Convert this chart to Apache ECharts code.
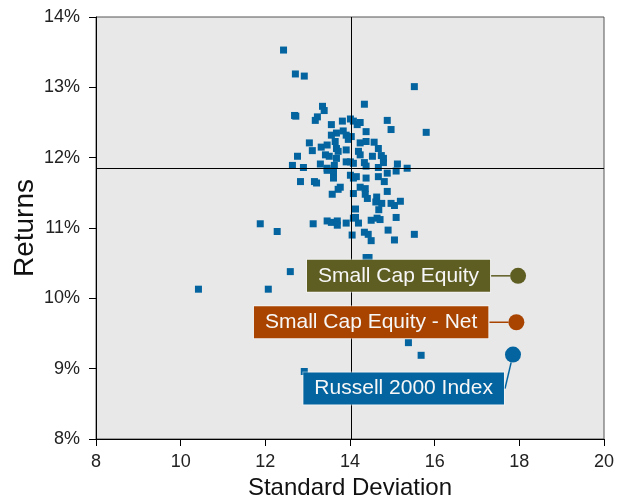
<!DOCTYPE html>
<html>
<head>
<meta charset="utf-8">
<script src="https://cdn.jsdelivr.net/npm/echarts@6/dist/echarts.min.js"></script>
<style>
  html, body { margin: 0; padding: 0; background: #ffffff; }
  #chart { width: 628px; height: 500px; }
</style>
</head>
<body>
<div id="chart"></div>
<script>
// ---- data ----
const stdDev = [
  12.43, 12.71, 12.92, 15.52, 14.34, 13.35, 13.39, 12.69, 12.72, 13.23,
  13.18, 14.88, 15.80, 14.97, 13.56, 13.82, 14.01, 14.08, 14.17, 14.24,
  14.38, 12.76, 13.68, 13.56, 13.84, 13.91, 14.03, 13.96, 13.65, 13.04,
  13.32, 13.46, 13.11, 13.42, 13.51, 13.68, 13.72, 13.68, 13.91, 13.91,
  14.01, 14.08, 14.24, 14.38, 14.57, 14.67, 14.74, 14.79, 14.79, 14.53,
  14.20, 14.24, 14.34, 14.38, 14.67, 15.12, 15.35, 12.64, 12.90, 13.30,
  13.46, 13.63, 13.46, 13.61, 13.61, 12.83, 13.16, 13.21, 14.01, 14.15,
  14.08, 14.38, 14.67, 14.88, 15.09, 14.81, 13.77, 13.72, 13.58, 14.08,
  14.24, 14.36, 14.36, 14.41, 14.63, 14.61, 14.75, 14.68, 14.88, 14.97,
  15.05, 15.19, 14.13, 14.13, 14.08, 14.20, 13.91, 13.46, 13.56, 13.70,
  13.70, 13.13, 12.28, 14.50, 14.64, 14.71, 15.09, 14.90, 14.34, 14.43,
  14.50, 14.05, 15.05, 15.52, 11.88, 14.38, 14.45, 12.59, 10.42, 12.07,
  15.38, 15.68, 12.92
];
const returnsPct = [
  13.53, 13.19, 13.16, 13.01, 12.76, 12.73, 12.67, 12.60, 12.59, 12.58,
  12.53, 12.53, 12.36, 12.40, 12.47, 12.52, 12.55, 12.52, 12.47, 12.50,
  12.37, 12.02, 12.35, 12.32, 12.38, 12.32, 12.30, 12.26, 12.23, 12.21,
  12.15, 12.18, 12.10, 12.04, 12.02, 12.13, 12.09, 11.99, 12.11, 11.94,
  11.94, 11.92, 12.21, 12.23, 12.22, 12.13, 12.03, 11.99, 11.93, 12.02,
  12.09, 12.04, 11.93, 11.88, 11.86, 11.91, 11.85, 11.89, 11.86, 11.91,
  11.85, 11.89, 11.82, 11.79, 11.71, 11.66, 11.66, 11.64, 11.75, 11.73,
  11.71, 11.71, 11.73, 11.78, 11.81, 11.66, 11.58, 11.55, 11.48, 11.49,
  11.58, 11.56, 11.48, 11.42, 11.44, 11.37, 11.35, 11.26, 11.52, 11.35,
  11.32, 11.38, 11.27, 11.15, 11.14, 11.07, 11.07, 11.10, 11.08, 11.10,
  11.04, 11.06, 10.95, 11.11, 11.14, 11.12, 11.15, 10.97, 10.94, 10.91,
  10.82, 10.90, 10.83, 10.91, 11.06, 10.58, 10.58, 10.38, 10.13, 10.13,
  9.37, 9.19, 8.96
];
const highlightNames = ['Small Cap Equity', 'Small Cap Equity - Net', 'Russell 2000 Index'];
const highlightStdDev = [17.97, 17.93, 17.85];
const highlightReturns = [10.32, 9.66, 9.20];
const medianStdDev = 14.03;
const medianReturn = 11.85;
const xTicks = [8, 10, 12, 14, 16, 18, 20];
const yTicks = [8, 9, 10, 11, 12, 13, 14];

// ---- styles ----
const FONT = "'Liberation Sans', Arial, sans-serif";
const dotColor = '#03649f';
const highlightColors = ['#5e5d22', '#a84400', '#03649f'];

const chart = echarts.init(document.getElementById('chart'), null, { renderer: 'canvas' });

const scatterData = stdDev.map((x, i) => [x, returnsPct[i]]);

// label placement relative to the marker: gap to marker's left edge, vertical shift
const labelPlacement = [
  { gap: 20, shiftY: 0 },
  { gap: 20, shiftY: 0 },
  { gap: 1, shiftY: 34 }
];

const highlightData = highlightNames.map((n, i) => ({
  name: n,
  value: [highlightStdDev[i], highlightReturns[i]],
  itemStyle: { color: highlightColors[i], opacity: 1 },
  label: {
    show: true,
    formatter: n,
    position: 'left',
    color: '#f7f7f7',
    fontFamily: FONT,
    fontSize: 21,
    lineHeight: 22,
    backgroundColor: highlightColors[i],
    borderColor: 'rgba(255,255,255,0.45)',
    borderWidth: 1,
    padding: [5, 11, 5, 11]
  },
  labelLine: { show: true, lineStyle: { color: highlightColors[i], width: 1.5, opacity: 1 } }
}));

const axisCommon = {
  axisLine: { show: true, onZero: false, lineStyle: { color: '#000', width: 1 } },
  axisTick: { show: true, length: 7, lineStyle: { color: '#000' } },
  splitLine: { show: false }
};

chart.setOption({
  animation: false,
  backgroundColor: '#ffffff',
  textStyle: { fontFamily: FONT },
  grid: {
    left: 96, right: 24, top: 17, bottom: 61,
    containLabel: false, outerBoundsMode: 'none',
    show: true, backgroundColor: '#e8e8e8', borderColor: '#555', borderWidth: 1
  },
  xAxis: Object.assign({
    type: 'value', min: xTicks[0], max: xTicks[xTicks.length - 1], interval: 2,
    name: 'Standard Deviation', nameLocation: 'middle', nameGap: 37, nameMoveOverlap: false,
    nameTextStyle: { fontSize: 24, color: '#111', fontFamily: FONT },
    axisLabel: { fontSize: 18, color: '#222', margin: 14, fontFamily: FONT }
  }, axisCommon),
  yAxis: Object.assign({
    type: 'value', min: yTicks[0], max: yTicks[yTicks.length - 1], interval: 1,
    name: 'Returns', nameLocation: 'middle', nameGap: 57, nameMoveOverlap: false,
    nameTextStyle: { fontSize: 28, color: '#111', fontFamily: FONT },
    axisLabel: { fontSize: 18, color: '#222', margin: 16, fontFamily: FONT, formatter: '{value}%' }
  }, axisCommon),
  series: [
    {
      type: 'scatter', name: 'crosshair', data: [], z: 1,
      markLine: {
        silent: true, symbol: ['none', 'none'], animation: false,
        label: { show: false },
        lineStyle: { color: '#000', width: 1, type: 'solid' },
        data: [{ xAxis: medianStdDev }, { yAxis: medianReturn }]
      }
    },
    {
      type: 'scatter', name: 'peers', z: 2,
      symbol: 'rect', symbolSize: 7,
      itemStyle: { color: dotColor, opacity: 1 },
      data: scatterData
    },
    {
      type: 'scatter', name: 'highlights', z: 5,
      symbol: 'circle', symbolSize: 16,
      itemStyle: { opacity: 1 },
      data: highlightData,
      labelLayout: function (p) {
        const pl = labelPlacement[p.dataIndex];
        return {
          x: p.rect.x - pl.gap,
          y: p.rect.y + p.rect.height / 2 + pl.shiftY,
          align: 'right',
          verticalAlign: 'middle'
        };
      }
    }
  ]
});
</script>
</body>
</html>
